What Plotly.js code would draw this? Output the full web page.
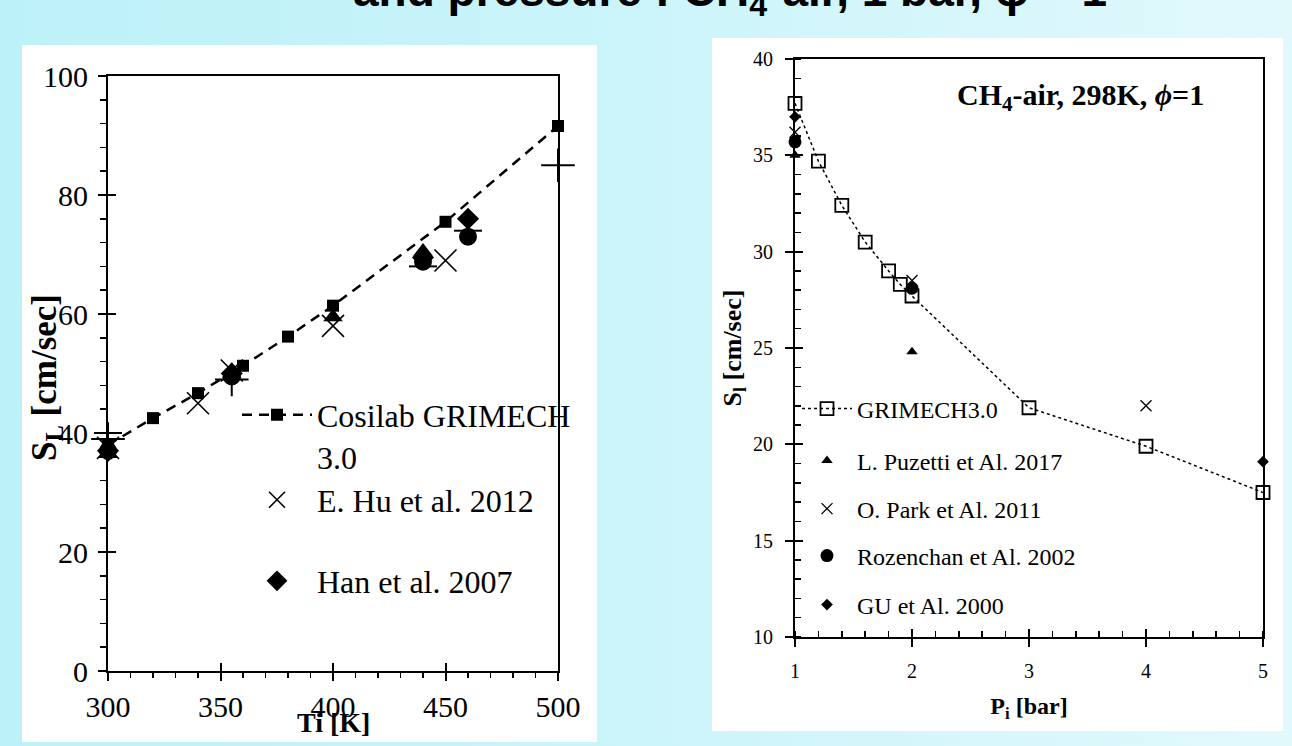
<!DOCTYPE html>
<html><head><meta charset="utf-8">
<script src="https://cdn.plot.ly/plotly-3.0.1.min.js"></script>
<style>
html,body{margin:0;padding:0;width:1292px;height:746px;overflow:hidden;
background:linear-gradient(90deg,#bdf1f8 0%,#c9f4fa 45%,#e2f9fc 100%);}
#chart{width:1292px;height:746px;}
</style></head><body><div id="chart"></div>
<script>
// ---- Left chart: laminar burning velocity vs initial temperature ----
const tempCosilab = [300, 320, 340, 360, 380, 400, 450, 500];
const slCosilab   = [38, 42.5, 46.7, 51.3, 56.2, 61.4, 75.5, 91.6];
const tempHu = [300, 340, 355, 400, 450];
const slHu   = [37.5, 45, 50.5, 58, 69];
const tempHan = [300, 355, 440, 460];
const slHan   = [37, 50, 69.5, 76];
const tempTri = [300, 355, 400, 440];
const slTri   = [36.5, 50, 59.5, 70.5];
const tempCirc = [300, 355, 440, 460];
const slCirc   = [37, 49.5, 68.8, 73];
const tempPlus = [300, 355, 500];
const slPlus   = [39, 49, 85];
const tempDash = [300, 440, 460];
const slDash   = [40, 68, 74];
const leftNames = ['Cosilab GRIMECH<br>3.0', 'E. Hu et al. 2012', 'Han et al. 2007'];

// ---- Right chart: laminar burning velocity vs initial pressure ----
const pGri  = [1, 1.2, 1.4, 1.6, 1.8, 1.9, 2, 3, 4, 5];
const slGri = [37.7, 34.7, 32.4, 30.5, 29.0, 28.3, 27.7, 21.9, 19.9, 17.5];
const pPuz  = [1, 2];    const slPuz  = [35.0, 24.8];
const pPark = [1, 2, 4]; const slPark = [36.2, 28.5, 22.0];
const pRoz  = [1, 2];    const slRoz  = [35.7, 28.1];
const pGu   = [1, 5];    const slGu   = [37.0, 19.1];
const rightNames = ['GRIMECH3.0', 'L. Puzetti et Al. 2017', 'O. Park et Al. 2011', 'Rozenchan et Al. 2002', 'GU et Al. 2000'];

const W = 1292, H = 746;
const px = v => v / W, py = v => 1 - v / H;
const K = '#000';
const serif = 'Liberation Serif, Times New Roman, serif';

const traces = [
  {x: tempCosilab, y: slCosilab, name: leftNames[0], mode: 'lines+markers', legend: 'legend',
   line: {color: K, width: 2.5, dash: '10px,7px'}, marker: {symbol: 'square', size: 12, color: K}, cliponaxis: false},
  {x: tempHu, y: slHu, name: leftNames[1], mode: 'markers', legend: 'legend2',
   marker: {symbol: 'x-thin-open', size: 22, color: K, line: {color: K, width: 1.6}}, cliponaxis: false},
  {x: tempHan, y: slHan, name: leftNames[2], mode: 'markers', legend: 'legend3',
   marker: {symbol: 'diamond', size: 17, color: K}, cliponaxis: false},
  {x: tempTri, y: slTri, name: 'tri', mode: 'markers', showlegend: false,
   marker: {symbol: 'triangle-up', size: 17, color: K}, cliponaxis: false},
  {x: tempCirc, y: slCirc, name: 'circ', mode: 'markers', showlegend: false,
   marker: {symbol: 'circle', size: 18, color: K}, cliponaxis: false},
  {x: tempPlus, y: slPlus, name: 'plus', mode: 'markers', showlegend: false,
   marker: {symbol: 'cross-thin-open', size: 24, color: K, line: {color: K, width: 2}}, cliponaxis: false},
  {x: tempDash, y: slDash, name: 'dash', mode: 'markers', showlegend: false,
   marker: {symbol: 'line-ew-open', size: 20, color: K, line: {color: K, width: 2}}, cliponaxis: false},

  {x: pGri, y: slGri, name: rightNames[0], mode: 'lines+markers', xaxis: 'x2', yaxis: 'y2', legend: 'legend4',
   line: {color: K, width: 1.5, dash: '3px,3px'}, marker: {symbol: 'square-open', size: 13, color: K, line: {color: K, width: 1.8}}, cliponaxis: false},
  {x: pPuz, y: slPuz, name: rightNames[1], mode: 'markers', xaxis: 'x2', yaxis: 'y2', legend: 'legend5',
   marker: {symbol: 'triangle-up', size: 10, color: K}, cliponaxis: false},
  {x: pPark, y: slPark, name: rightNames[2], mode: 'markers', xaxis: 'x2', yaxis: 'y2', legend: 'legend6',
   marker: {symbol: 'x-thin-open', size: 11, color: K, line: {color: K, width: 1.3}}, cliponaxis: false},
  {x: pRoz, y: slRoz, name: rightNames[3], mode: 'markers', xaxis: 'x2', yaxis: 'y2', legend: 'legend7',
   marker: {symbol: 'circle', size: 13, color: K}, cliponaxis: false},
  {x: pGu, y: slGu, name: rightNames[4], mode: 'markers', xaxis: 'x2', yaxis: 'y2', legend: 'legend8',
   marker: {symbol: 'diamond', size: 9, color: K}, cliponaxis: false},

  // empty traces so the tick-only overlay axes (inner half of crossing ticks) are drawn
  {x: [], y: [], xaxis: 'x3', yaxis: 'y3', showlegend: false, hoverinfo: 'skip', mode: 'markers'},
  {x: [], y: [], xaxis: 'x4', yaxis: 'y4', showlegend: false, hoverinfo: 'skip', mode: 'markers'}
];

function mainAxis(domain, range, dtick, mdtick, anchor, fsize, mticks, mlen, standoff) {
  return {domain, range, dtick, tick0: range[0], anchor, autorange: false,
    showline: true, linecolor: K, linewidth: 2, mirror: true,
    ticks: 'outside', ticklen: 8, tickwidth: 2, tickcolor: K,
    minor: {ticks: mticks, ticklen: mlen, tickwidth: 1.5, tickcolor: K, dtick: mdtick, showgrid: false},
    showgrid: false, zeroline: false, ticklabelstandoff: standoff,
    tickfont: {family: serif, size: fsize, color: K}};
}
function overAxis(over, domain, range, dtick, anchor) {
  return {overlaying: over, domain, range, dtick, tick0: range[0], anchor, autorange: false,
    ticks: 'inside', ticklen: 8, tickwidth: 2, tickcolor: K,
    showticklabels: false, showline: false, showgrid: false, zeroline: false};
}

const LX = [px(108), px(558)], LY = [py(671), py(76)];
const RX = [px(795), px(1263)], RY = [py(637), py(59)];

const legendBase = (x, y, size, iw) => ({x, y, xanchor: 'left', yanchor: 'middle', bgcolor: 'rgba(0,0,0,0)',
  borderwidth: 0, itemwidth: iw, valign: 'top', font: {family: serif, size, color: K}});

const layout = {
  width: W, height: H,
  margin: {l: 0, r: 0, t: 0, b: 0},
  paper_bgcolor: 'rgba(0,0,0,0)', plot_bgcolor: '#fff',
  xaxis: mainAxis(LX, [300, 500], 50, 10, 'y', 30, 'outside', 5, 0),
  yaxis: mainAxis(LY, [0, 100], 20, 4, 'x', 30, 'outside', 6, 4),
  xaxis3: overAxis('x', LX, [300, 500], 50, 'y3'),
  yaxis3: overAxis('y', LY, [0, 100], 20, 'x3'),
  xaxis2: Object.assign(mainAxis(RX, [1, 5], 1, 0.2, 'y2', 20, 'inside', 6, 7),
    {title: {text: '<b>P<sub>i</sub> [bar]</b>', font: {family: serif, size: 24, color: K}, standoff: 16}}),
  yaxis2: Object.assign(mainAxis(RY, [10, 40], 5, 1, 'x2', 20, 'inside', 6, 8),
    {title: {text: '<b>S<sub>l</sub> [cm/sec]</b>', font: {family: serif, size: 26, color: K}, standoff: 4}}),
  xaxis4: overAxis('x2', RX, [1, 5], 1, 'y4'),
  yaxis4: overAxis('y2', RY, [10, 40], 5, 'x4'),
  legend:  legendBase(px(237), py(436), 32, 70),
  legend2: legendBase(px(237), py(500), 32, 70),
  legend3: legendBase(px(237), py(581), 32, 70),
  legend4: legendBase(px(797), py(409), 24, 50),
  legend5: legendBase(px(797), py(461), 24, 50),
  legend6: legendBase(px(797), py(509), 24, 50),
  legend7: legendBase(px(797), py(556), 24, 50),
  legend8: legendBase(px(797), py(605), 24, 50),
  shapes: [
    {type: 'rect', xref: 'paper', yref: 'paper', x0: px(22), x1: px(597), y0: py(742), y1: py(45),
     fillcolor: '#fff', line: {width: 0}, layer: 'below'},
    {type: 'rect', xref: 'paper', yref: 'paper', x0: px(712), x1: px(1283), y0: py(731), y1: py(38),
     fillcolor: '#fff', line: {width: 0}, layer: 'below'}
  ],
  annotations: [
    {text: '<b>and pressure : CH<sub>4</sub>-air, 1 bar, ϕ = 1</b>', xref: 'paper', yref: 'paper',
     x: px(730), y: py(25), xanchor: 'center', yanchor: 'bottom', showarrow: false,
     font: {family: 'Liberation Sans, Arial, sans-serif', size: 46, color: K}},
    {text: '<b>S<sub>L</sub> [cm/sec]</b>', xref: 'paper', yref: 'paper', textangle: -90,
     x: px(46), y: py(378), xanchor: 'center', yanchor: 'middle', showarrow: false,
     font: {family: serif, size: 35, color: K}},
    {text: '<b>Ti [K]</b>', xref: 'paper', yref: 'paper',
     x: px(333), y: py(722), xanchor: 'center', yanchor: 'middle', showarrow: false,
     font: {family: serif, size: 28, color: K}},
    {text: '<b>CH<sub>4</sub>-air, 298K, <i>ϕ</i>=1</b>', xref: 'paper', yref: 'paper',
     x: px(1080), y: py(97), xanchor: 'center', yanchor: 'middle', showarrow: false,
     font: {family: serif, size: 30, color: K}}
  ]
};

Plotly.newPlot('chart', traces, layout, {staticPlot: true, displayModeBar: false});
</script></body></html>
